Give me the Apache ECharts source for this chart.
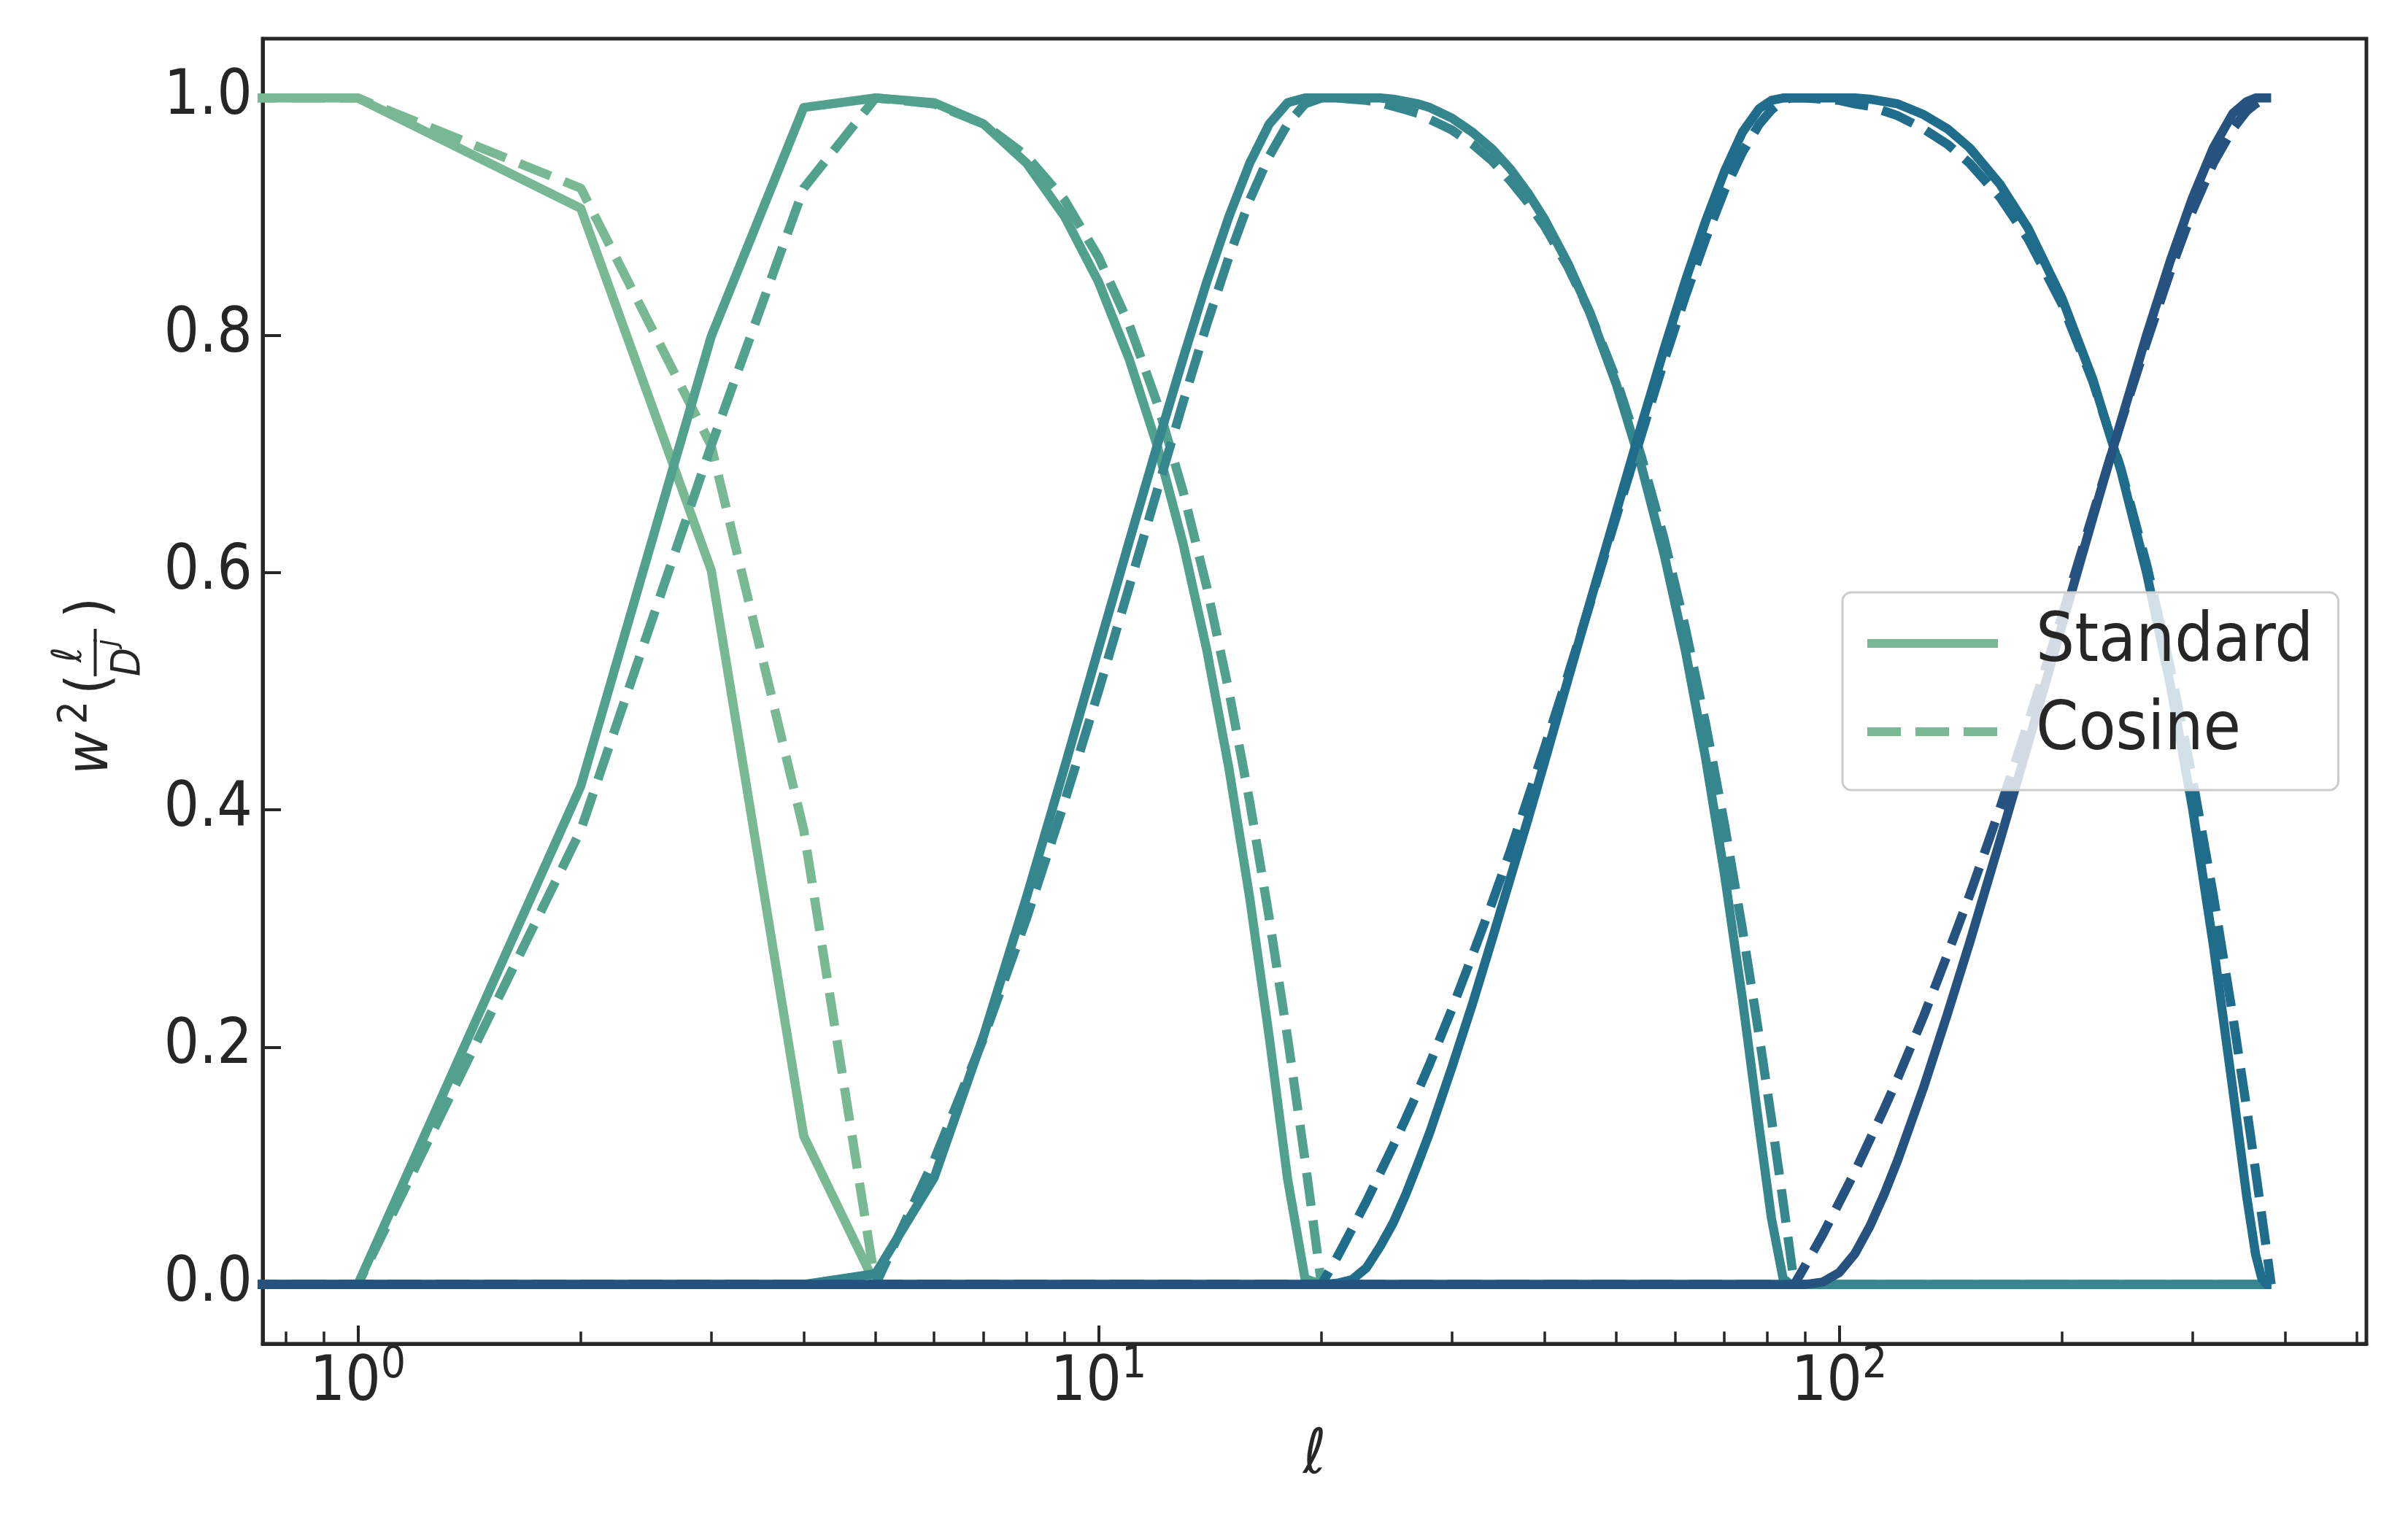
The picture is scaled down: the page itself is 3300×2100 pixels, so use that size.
<!DOCTYPE html>
<html lang="en">
<head>
<meta charset="utf-8">
<title>Standard vs cosine needlet windows</title>
<script src="https://cdn.jsdelivr.net/npm/echarts@6.0.0/dist/echarts.min.js"></script>
<style>
  html, body { margin: 0; background: #ffffff; }
  #chart { width: 3300px; height: 2100px; }
</style>
</head>
<body>
<div id="chart" aria-label="Needlet window functions, standard and cosine"></div>
<script>
// multipoles the windows were sampled at (l = 0 is kept: a log axis puts it left of the frame)
const ell = [
  0, 1, 2, 3, 4, 5,
  6, 7, 8, 9, 10, 11, 12, 13, 14, 15, 16, 17, 18, 19, 20,
  21, 22, 23, 24, 25, 26, 27, 28,
  30, 32, 34, 36, 38, 40, 43, 46, 50, 54, 58, 62, 66, 70, 74, 78, 81, 84, 86,
  87, 90, 95, 100, 105, 110, 115, 120, 130, 140, 150, 165, 180, 200, 220, 240, 260, 280, 300, 320, 340, 355, 365, 372, 378, 383
];

// standard windows, j = 0..4
const std1 = [
  1, 1, 0.907, 0.602, 0.125, 0,
  0, 0, 0, 0, 0, 0, 0, 0, 0, 0, 0, 0, 0, 0, 0,
  0, 0, 0, 0, 0, 0, 0, 0,
  0, 0, 0, 0, 0, 0, 0, 0, 0, 0, 0, 0, 0, 0, 0, 0, 0, 0, 0,
  0, 0, 0, 0, 0, 0, 0, 0, 0, 0, 0, 0, 0, 0, 0, 0, 0, 0, 0, 0, 0, 0, 0, 0, 0, 0
];
const std2 = [
  0, 0, 0.420, 0.799, 0.992, 1.000,
  0.996, 0.978, 0.945, 0.900, 0.845, 0.780, 0.707, 0.625, 0.535, 0.435, 0.326, 0.209, 0.089, 0.005, 0,
  0, 0, 0, 0, 0, 0, 0, 0,
  0, 0, 0, 0, 0, 0, 0, 0, 0, 0, 0, 0, 0, 0, 0, 0, 0, 0, 0,
  0, 0, 0, 0, 0, 0, 0, 0, 0, 0, 0, 0, 0, 0, 0, 0, 0, 0, 0, 0, 0, 0, 0, 0, 0, 0
];
const std3 = [
  0, 0, 0, 0, 0, 0.009,
  0.090, 0.210, 0.327, 0.436, 0.536, 0.626, 0.707, 0.780, 0.845, 0.900, 0.945, 0.978, 0.996, 1.000, 1.000,
  1.000, 1.000, 1.000, 1.000, 0.999, 0.997, 0.995, 0.992,
  0.983, 0.971, 0.957, 0.940, 0.920, 0.898, 0.861, 0.820, 0.759, 0.691, 0.616, 0.534, 0.444, 0.346, 0.241, 0.132, 0.056, 0.005, 0,
  0, 0, 0, 0, 0, 0, 0, 0, 0, 0, 0, 0, 0, 0, 0, 0, 0, 0, 0, 0, 0, 0, 0, 0, 0, 0
];
const std4 = [
  0, 0, 0, 0, 0, 0,
  0, 0, 0, 0, 0, 0, 0, 0, 0, 0, 0, 0, 0, 0, 0,
  0.001, 0.004, 0.014, 0.032, 0.052, 0.076, 0.102, 0.128,
  0.183, 0.237, 0.291, 0.343, 0.392, 0.440, 0.509, 0.573, 0.651, 0.723, 0.788, 0.846, 0.896, 0.938, 0.971, 0.991, 0.998, 1.000, 1.000,
  1.000, 1.000, 1.000, 1.000, 1.000, 0.999, 0.997, 0.995, 0.986, 0.974, 0.958, 0.927, 0.890, 0.831, 0.763, 0.686, 0.600, 0.505, 0.401, 0.286, 0.164, 0.074, 0.025, 0.005, 0, 0
];
const std5 = [
  0, 0, 0, 0, 0, 0,
  0, 0, 0, 0, 0, 0, 0, 0, 0, 0, 0, 0, 0, 0, 0,
  0, 0, 0, 0, 0, 0, 0, 0,
  0, 0, 0, 0, 0, 0, 0, 0, 0, 0, 0, 0, 0, 0, 0, 0, 0, 0, 0,
  0, 0, 0.002, 0.010, 0.026, 0.049, 0.076, 0.105, 0.166, 0.228, 0.288, 0.375, 0.456, 0.556, 0.646, 0.727, 0.800, 0.863, 0.916, 0.958, 0.987, 0.997, 1.000, 1.000, 1.000, 1.000
];

// cosine windows, j = 0..4
const cos1 = [
  1, 1, 0.924, 0.707, 0.383, 0,
  0, 0, 0, 0, 0, 0, 0, 0, 0, 0, 0, 0, 0, 0, 0,
  0, 0, 0, 0, 0, 0, 0, 0,
  0, 0, 0, 0, 0, 0, 0, 0, 0, 0, 0, 0, 0, 0, 0, 0, 0, 0, 0,
  0, 0, 0, 0, 0, 0, 0, 0, 0, 0, 0, 0, 0, 0, 0, 0, 0, 0, 0, 0, 0, 0, 0, 0, 0, 0
];
const cos2 = [
  0, 0, 0.383, 0.707, 0.924, 1.000,
  0.995, 0.978, 0.951, 0.914, 0.866, 0.809, 0.743, 0.669, 0.588, 0.500, 0.407, 0.309, 0.208, 0.105, 0,
  0, 0, 0, 0, 0, 0, 0, 0,
  0, 0, 0, 0, 0, 0, 0, 0, 0, 0, 0, 0, 0, 0, 0, 0, 0, 0, 0,
  0, 0, 0, 0, 0, 0, 0, 0, 0, 0, 0, 0, 0, 0, 0, 0, 0, 0, 0, 0, 0, 0, 0, 0, 0, 0
];
const cos3 = [
  0, 0, 0, 0, 0, 0,
  0.105, 0.208, 0.309, 0.407, 0.500, 0.588, 0.669, 0.743, 0.809, 0.866, 0.914, 0.951, 0.978, 0.995, 1.000,
  1.000, 0.999, 0.998, 0.996, 0.993, 0.990, 0.987, 0.982,
  0.973, 0.961, 0.947, 0.930, 0.912, 0.892, 0.858, 0.820, 0.763, 0.699, 0.629, 0.553, 0.473, 0.388, 0.300, 0.209, 0.140, 0.070, 0.023,
  0, 0, 0, 0, 0, 0, 0, 0, 0, 0, 0, 0, 0, 0, 0, 0, 0, 0, 0, 0, 0, 0, 0, 0, 0, 0
];
const cos4 = [
  0, 0, 0, 0, 0, 0,
  0, 0, 0, 0, 0, 0, 0, 0, 0, 0, 0, 0, 0, 0, 0,
  0.023, 0.047, 0.070, 0.094, 0.117, 0.140, 0.163, 0.186,
  0.232, 0.278, 0.322, 0.366, 0.410, 0.452, 0.513, 0.572, 0.647, 0.715, 0.778, 0.833, 0.881, 0.922, 0.954, 0.978, 0.990, 0.998, 1.000,
  1.000, 1.000, 0.999, 0.998, 0.995, 0.993, 0.989, 0.985, 0.974, 0.961, 0.945, 0.916, 0.881, 0.826, 0.761, 0.688, 0.607, 0.520, 0.426, 0.328, 0.226, 0.148, 0.095, 0.058, 0.027, 0
];
const cos5 = [
  0, 0, 0, 0, 0, 0,
  0, 0, 0, 0, 0, 0, 0, 0, 0, 0, 0, 0, 0, 0, 0,
  0, 0, 0, 0, 0, 0, 0, 0,
  0, 0, 0, 0, 0, 0, 0, 0, 0, 0, 0, 0, 0, 0, 0, 0, 0, 0, 0,
  0, 0.016, 0.042, 0.069, 0.095, 0.122, 0.148, 0.174, 0.226, 0.278, 0.328, 0.402, 0.474, 0.564, 0.649, 0.726, 0.794, 0.854, 0.905, 0.945, 0.974, 0.989, 0.995, 0.998, 1.000, 1.000
];

const yTicks = [0, 0.2, 0.4, 0.6, 0.8, 1.0];
const xMajorTicks = [1, 10, 100];
const xMinorTicks = [0.8, 0.9, 2, 3, 4, 5, 6, 7, 8, 9, 20, 30, 40, 50, 60, 70, 80, 90, 200, 300, 400, 500];

const FONT = "'DejaVu Sans Condensed', 'DejaVu Sans', sans-serif";
const INK = '#262626';
const colors = ['#78b892', '#52a08e', '#35868d', '#1f6c8b', '#25527f'];
const OFF_AXIS = 0.1; // where l = 0 is put so the flat start runs in from the left edge

const chart = echarts.init(document.getElementById('chart'), null, { renderer: 'canvas' });

function pairs(vals) {
  return ell.map((l, i) => [l === 0 ? OFF_AXIS : l, vals[i]]);
}

function lineSeries(name, vals, color, dash) {
  return {
    name,
    type: 'line',
    data: pairs(vals),
    showSymbol: false,
    symbol: 'none',
    silent: true,
    lineStyle: { color, width: 12.5, type: dash, cap: 'butt', join: 'round' },
    itemStyle: { color },
    emphasis: { disabled: true }
  };
}

const standard = [std1, std2, std3, std4, std5];
const cosine = [cos1, cos2, cos3, cos4, cos5];
const series = [];
standard.forEach((vals, j) => {
  series.push(lineSeries(j === 0 ? 'Standard' : 'Standard ' + j, vals, colors[j], 'solid'));
  series.push(lineSeries(j === 0 ? 'Cosine' : 'Cosine ' + j, cosine[j], colors[j], [46, 20]));
});

// y label w^2(l / D^j), laid out piece by piece and turned to read upwards
function labelText(text, x, baseline, size, italic) {
  return {
    type: 'text',
    x,
    y: baseline - 0.297 * size,
    style: {
      text,
      fill: INK,
      font: (italic ? 'italic ' : '') + size + 'px ' + FONT,
      textAlign: 'left',
      textVerticalAlign: 'middle'
    }
  };
}

const yName = {
  type: 'group',
  x: 150,
  y: 1062,
  rotation: Math.PI / 2,
  children: [
    labelText('w', 0, 0, 80, true),
    labelText('2', 69, -30, 56, false),
    labelText('(', 110, 0, 80, false),
    labelText('\u2113', 154, -37, 56, true),
    { type: 'rect', shape: { x: 135, y: -21.5, width: 65, height: 4 }, style: { fill: INK } },
    labelText('D', 135, 43, 56, true),
    labelText('j', 176, 10, 40, true),
    labelText(')', 215, 0, 80, false)
  ]
};

chart.setOption({
  animation: false,
  backgroundColor: '#ffffff',
  grid: {
    left: 360, right: 57, top: 53, bottom: 258,
    show: true, borderColor: INK, borderWidth: 5, backgroundColor: 'transparent'
  },
  legend: {
    data: ['Standard', 'Cosine'],
    orient: 'vertical',
    left: 2525,
    top: 812,
    itemWidth: 179,
    itemHeight: 40,
    itemGap: 21,
    padding: [20, 34, 30, 28],
    backgroundColor: 'rgba(255,255,255,0.8)',
    borderColor: '#cccccc',
    borderWidth: 3,
    borderRadius: 12,
    selectedMode: false,
    itemStyle: { opacity: 0 },
    lineStyle: { width: 12 },
    textStyle: { fontSize: 93, fontFamily: FONT, color: INK, lineHeight: 100, padding: [0, 0, 0, 47] }
  },
  xAxis: [
    {
      type: 'log',
      logBase: 10,
      min: 0.744,
      max: 515,
      position: 'bottom',
      axisLine: { show: true, onZero: false, lineStyle: { color: INK, width: 5 } },
      axisTick: { inside: true, length: 25, customValues: xMajorTicks, lineStyle: { color: INK, width: 4 } },
      axisLabel: {
        customValues: xMajorTicks,
        margin: 0,
        formatter: (v) => '{b|10}{e|' + Math.round(Math.log10(v)) + '}',
        rich: {
          b: { fontSize: 85, fontFamily: FONT, color: INK, lineHeight: 110 },
          e: { fontSize: 60, fontFamily: FONT, color: INK, lineHeight: 60, verticalAlign: 'top' }
        }
      },
      splitLine: { show: false },
      name: '\u2113',
      nameLocation: 'middle',
      nameGap: 112,
      nameTextStyle: { fontSize: 85, fontStyle: 'italic', fontFamily: FONT, color: INK }
    },
    {
      type: 'log',
      logBase: 10,
      min: 0.744,
      max: 515,
      position: 'bottom',
      axisLine: { show: false, onZero: false },
      axisTick: { inside: true, length: 16.7, customValues: xMinorTicks, lineStyle: { color: INK, width: 3.5 } },
      axisLabel: { show: false },
      splitLine: { show: false }
    }
  ],
  yAxis: {
    type: 'value',
    min: -0.05,
    max: 1.05,
    axisLine: { show: true, onZero: false, lineStyle: { color: INK, width: 5 } },
    axisTick: { inside: true, length: 25, customValues: yTicks, lineStyle: { color: INK, width: 4 } },
    axisLabel: {
      customValues: yTicks,
      margin: 14,
      padding: [14, 0, 0, 0],
      formatter: (v) => v.toFixed(1),
      fontSize: 85,
      fontFamily: FONT,
      color: INK
    },
    splitLine: { show: false }
  },
  graphic: [yName],
  series
});
</script>
</body>
</html>
